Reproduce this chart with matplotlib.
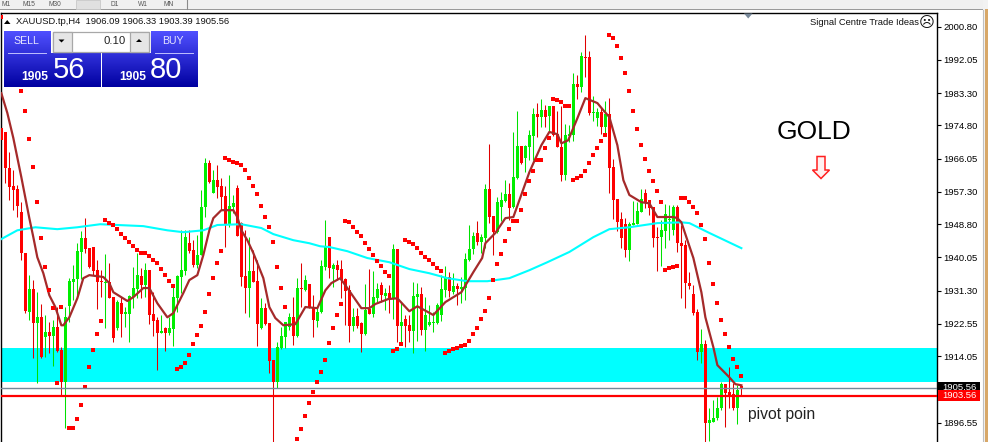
import numpy as np
import matplotlib
matplotlib.use("Agg")
from matplotlib import pyplot as plt
from matplotlib.patches import Rectangle, Polygon

plt.rcParams['font.family'] = ['Liberation Sans', 'DejaVu Sans']

opens = [1974.1,1973.1,1963.6,1958.8,1958,1952,1941.2,1925.7,1931.7,1922.8,
         1924.3,1919.1,1920.4,1919.3,1921.7,1915.6,1907.2,1927.2,1933.5,1934.3,
         1941.5,1945.1,1942.5,1942.8,1936.7,1933.8,1933.3,1933.5,1929.6,1921.4,
         1928,1925.1,1925.1,1929.6,1931.7,1935.1,1932.8,1936.7,1925.1,1923.5,
         1920.1,1921.4,1920.1,1921.2,1929.3,1934.9,1936.4,1943.8,1942,1938,
         1940.7,1953.3,1964.9,1957,1960.4,1958.8,1956.2,1948.6,1953.3,1958.3,
         1949.1,1935.1,1932,1936.4,1933.8,1921.4,1926.7,1922.8,1913,1907.2,
         1916.2,1919.1,1921.7,1924.3,1919.3,1932,1931.4,1933,1927,1923.3,
         1925.7,1937.5,1945.4,1937,1938,1937,1934.3,1931.4,1922,1924.6,
         1922.8,1919.9,1926.4,1925.1,1929.3,1932.8,1929.9,1930.7,1929.3,1942.2,
         1922,1923.8,1922.2,1920.6,1929.6,1930.4,1920.9,1922.2,1922.8,1922.8,
         1924.9,1931.4,1934.9,1930.9,1932.5,1931.7,1932,1939.3,1942.2,1946.5,
         1944.1,1945.1,1958,1950.9,1946.7,1953.3,1954.9,1956.7,1953.3,1960.9,
         1969.4,1966.2,1969.1,1972,1977.8,1977,1978.8,1977.3,1979.9,1972.5,
         1969.1,1961.7,1972,1972.3,1985.7,1984.9,1992.8,1992.8,1978.1,1976.7,
         1978.3,1974.4,1977.8,1963.8,1955.4,1950.1,1948.8,1942,1948.6,1948.8,
         1952,1957,1955.1,1953.3,1945.4,1945.4,1947,1949.9,1947.2,1953.3,
         1943.8,1943.3,1933.3,1930.4,1925.7,1915.1,1917.2,1896.4,1896.7,1897.7,
         1900.4,1906.7,1904.6,1904.1,1900.4,1906.2]
highs = [1978.3,1973.1,1967.8,1963,1959.1,1954.6,1941.2,1935.4,1934.1,1930.9,
         1927.8,1924.9,1923,1923.5,1927,1916.4,1927,1934.6,1938,1943.8,
         1947,1950.4,1942.5,1942.8,1939.3,1936.7,1940.9,1938.6,1929.6,1928.8,
         1929.6,1927,1930.1,1937.5,1941.2,1937.2,1938.6,1936.7,1930.9,1924.3,
         1924.9,1921.7,1924.3,1932.8,1935.4,1947.2,1947.2,1947.2,1944.6,1945.9,
         1957.8,1966.2,1965.7,1963,1964.4,1960.9,1958.8,1961.7,1956.5,1959.1,
         1949.3,1947.2,1945.4,1942,1939.3,1929.3,1928,1922.8,1913,1917.8,
         1921.7,1923,1925.4,1929.6,1934.6,1938.6,1935.4,1933,1930.1,1927,
         1939.3,1949.9,1945.4,1938.6,1939.3,1939.3,1934.6,1932.8,1926.7,1926.7,
         1923,1933,1937,1936.4,1933.3,1933.5,1932,1932.8,1943.5,1942.2,
         1928.3,1924.9,1924.9,1933.5,1933.3,1932.2,1929.6,1927.5,1925.7,1928,
         1935.4,1937.8,1936.2,1935.9,1933.3,1934.9,1941.2,1948.6,1946.7,1949.6,
         1946.2,1959.4,1969.9,1950.9,1955.9,1957.2,1960.4,1959.6,1973.1,1978.6,
         1969.4,1969.6,1973.6,1979.4,1980.7,1981.8,1980.2,1979.9,1979.9,1978.6,
         1979.9,1975.2,1974.9,1988.6,1988.1,1994.1,1998.6,1994.4,1982.5,1979.4,
         1979.6,1981.2,1982,1965.9,1955.4,1952,1950.4,1949.3,1954.9,1954.6,
         1958,1958,1955.1,1953.3,1948,1949.9,1954.1,1953.8,1953.8,1953.8,
         1948.6,1944.6,1936.2,1932.8,1926.4,1921.2,1918.3,1900.4,1902.5,1903.3,
         1907.2,1906.7,1911.2,1907,1906.4,1906.4]
lows = [1969.6,1959.6,1955.1,1952.5,1950.7,1939.3,1925.4,1923.5,1913.5,1907,
        1913.5,1913.8,1914.9,1911.4,1915.1,1903.8,1895.1,1923,1928.8,1930.1,
        1934.3,1941.2,1937.2,1935.4,1926.4,1929.6,1921.4,1929.3,1917.8,1920.9,
        1919.1,1921.7,1917.8,1926.7,1929.3,1929.3,1929.6,1922.5,1919.3,1910.4,
        1920.1,1915.4,1919.6,1916.7,1925.7,1930.7,1935.4,1941.2,1937.5,1937.2,
        1940.7,1950.7,1959.6,1957,1955.7,1952.5,1942.8,1948,1951.7,1945.7,
        1932.5,1925.4,1924.3,1933.5,1916.7,1921.2,1922.2,1909.6,1891.4,1905.6,
        1915.9,1916.2,1920.9,1917,1919.1,1927,1931.2,1926.7,1919.1,1921.7,
        1925.4,1936.7,1934.6,1932.2,1934.1,1929.3,1922.2,1917.8,1920.6,1921.4,
        1915.1,1919.6,1925.1,1924.3,1928.3,1928.3,1926.2,1925.4,1923.8,1917.8,
        1917,1916.4,1917.8,1914.9,1918,1919.6,1915.4,1922,1920.4,1922.5,
        1923.3,1929.6,1929.6,1930.4,1927.5,1928,1928.8,1939.1,1940.9,1943.3,
        1941.2,1942.5,1949.1,1940.7,1946.5,1949.6,1954.6,1949.9,1953,1960.7,
        1964.6,1962.5,1965.7,1965.7,1971.7,1974.4,1974.4,1973.1,1972,1969.1,
        1960.1,1960.4,1970.4,1970.7,1981.8,1983.6,1987.5,1977.5,1975.9,1974.6,
        1972.5,1972.8,1957,1950.1,1947,1942.5,1940.1,1939.1,1948.6,1948.8,
        1952,1953,1951.2,1942.8,1936.4,1937.8,1942.5,1944.6,1945.9,1941.5,
        1929.3,1926.7,1931.7,1924.9,1913,1912.2,1891.4,1891.7,1896.7,1897.2,
        1899.9,1895.4,1900.4,1899.9,1896.2,1903.8]
closes = [1970.9,1963.6,1958.6,1957.8,1953.6,1941.2,1925.9,1931.7,1922.8,1924.3,
          1913.8,1920.4,1919.3,1921.7,1915.4,1907.2,1924.3,1933.8,1934.3,1941.7,
          1945.1,1942.2,1937.5,1936.4,1933.5,1933.5,1933.5,1929.3,1918.8,1928.3,
          1925.1,1925.7,1929.9,1932,1935.4,1932.8,1936.7,1924.9,1923.3,1920.1,
          1920.6,1920.1,1921.4,1929.6,1935.1,1936.7,1945.4,1941.7,1938,1940.7,
          1953.3,1964.9,1959.9,1960.4,1958.6,1955.9,1948.6,1953.6,1954.3,1945.7,
          1934.9,1932,1936.4,1933.5,1922.5,1926.7,1922.5,1912.7,1907.2,1916.4,
          1919.3,1923,1924.3,1919.3,1932,1931.7,1934.1,1926.7,1923.5,1925.7,
          1937.8,1942.8,1937.2,1938,1936.7,1934.1,1931.2,1922,1924.3,1922,
          1919.9,1926.2,1925.1,1929.6,1931.7,1930.1,1930.7,1929.3,1942.2,1922,
          1923,1922,1920.6,1929.9,1930.4,1920.9,1924.9,1923,1923,1927.5,
          1931.7,1934.9,1931.2,1932.5,1931.7,1932.2,1939.6,1942.2,1945.7,1944.1,
          1945.4,1958,1950.7,1946.7,1954.6,1955.1,1956.7,1953,1961.2,1969.4,
          1964.9,1969.4,1972.3,1977.8,1977,1978.8,1977,1979.9,1972.3,1969.1,
          1961.7,1972.3,1972.5,1985.7,1984.9,1993.1,1992.6,1978.1,1978.3,1978.3,
          1974.4,1977.8,1963.6,1955.1,1949.3,1945.1,1942,1948.8,1949.1,1952.2,
          1955.4,1954.6,1953,1945.1,1945.1,1947.2,1951.5,1950.1,1953.3,1943.8,
          1943,1933.3,1932.5,1925.4,1915.1,1917.2,1896.4,1897.2,1897.7,1900.4,
          1906.7,1904.3,1903.5,1900.4,1905.1,1905.4]

# parabolic sar, one per candle, None where nothing is drawn
sar = [2003.3,None,None,None,None,1983.9,1978.6,1971.2,1963.8,1954.6,
       1945.1,1937.5,1931.4,1926.7,1907,1927,None,1895.1,1895.1,1897.5,
       1901.2,1905.9,1911.2,1915.6,1919.9,1923.3,1949.9,1949.1,1948.6,1947.5,
       1946.2,1945.1,1944.1,1943,1942,1941.2,1941.2,1940.4,1939.3,1938.6,
       1937,1935.4,1933.8,1932.5,1910.6,1911.2,1912.2,1914.3,1917.2,1919.6,
       1922,1925.7,1930.4,1934.6,1938.6,1941.7,1966.2,1965.7,1965.1,1964.9,
       1964.4,1963,1960.9,1958.8,1956.7,1953.6,1950.7,1948,1944.1,1937.5,
       1932,1927,None,None,1892.2,1894.9,1898.3,1901.7,1904.6,1907.2,
       1909.9,1913,1917.5,1921.4,1924.9,1927.8,1949.6,1949.3,1948,1946.7,
       1945.7,1943.8,1942.2,1940.7,1939.1,1937.8,1936.2,1935.1,1915.4,1915.9,
       1917.2,1944.6,1944.1,1943.5,1942.5,1941.2,1940.1,1939.3,1938.3,1937.2,
       1936.4,1914.9,1915.4,1915.9,1916.2,1916.7,1917,1918,1919.9,1921.4,
       1923.8,1925.9,1929.3,1934.1,1938.3,1940.9,1944.3,1947.5,1949.6,1949.6,
       1952.5,1956.7,1960.1,1962.8,1965.7,1965.7,1968.8,1971.5,1981.8,1981.5,
       1981,1979.9,1979.9,1960.4,1960.9,1961.5,1962.8,1964.9,1967,1968.8,
       1970.7,1972.3,1998.6,1997.8,1995.7,1992.6,1988.6,1983.8,1978.6,1973.8,
       1969.6,1965.9,1962.8,1960.1,1957.5,1954.6,1936.7,1937.2,1937.5,1937.8,
       1955.7,1955.7,1954.6,1953.3,1951.7,1948.6,1944.9,1938.6,1933,1928,
       1923.5,1919.9,1916.4,1913.3,1911.2,1908.8]

brown_idx = [0,1.5,3,5,7,8,9,10.5,12,13.5,15,15.5,17,19,20.5,22,25.5,27,28,31.5,
             33,35.5,37,39,41.5,43,45.5,47,49,50.5,52,53,55,58,59,60,61.5,63,65.5,67,
             68.5,70.5,73.5,76,79,81,82.5,84.7,86.5,90,92,93.5,96.7,99,102,104,108,111,115,118,
             120.2,121,122.2,123.5,126,128,132,135,137,139,140,141.7,144,146,149,150.5,152,154,155.5,157,
             160,162,164,168,169,170,171.5,173,175,176,178,179,182,183.5,185]
brown_val = [1983.3,1978.1,1971.5,1961.2,1950.4,1945.4,1940.1,1935.9,1930.1,1927,1922.2,1922.2,1924.3,1929.3,1934.6,1935.4,1934.9,1933.3,1930.9,1928.6,
             1929.6,1932,1932,1928,1924.3,1925.4,1930.7,1934.1,1935.4,1940.7,1947.2,1950.4,1952.5,1952.5,1950.7,1947.2,1944.6,1941.2,1934.6,1927,
             1924.1,1922.2,1922.5,1927,1926.7,1931.4,1933.3,1934.6,1932,1926.7,1926.7,1927.8,1929.1,1929.3,1925.9,1927.2,1924.9,1928.3,1930.9,1936.2,
             1939.9,1943.8,1945.1,1946.5,1950.4,1950.7,1962.5,1969.6,1973.1,1972.5,1970.1,1970.9,1976.7,1982,1980.7,1978.8,1977,1969.6,1960.4,1956.5,
             1954.6,1954.3,1950.7,1950.7,1950.4,1949.3,1944.6,1939.9,1930.9,1924.3,1916.4,1911.7,1908.5,1906.7,1906.4]

cyan_idx = [0,4,8.5,14,19,24.7,35.5,41.5,45.5,50.5,54,60,65,68,73,77,79.7,82,86.5,91.5,
            97,102,107,111.5,116.5,121.5,127,132,136.5,142,148,152,157,164,170,172,177,185]
cyan_val = [1944.9,1947.2,1948,1947.5,1948,1948.8,1948.3,1947.2,1946.7,1947.2,1948.6,1948.8,1947.8,1946.2,1944.6,1943.8,1943,1942.8,1941.7,1939.9,
            1938.8,1937,1935.9,1934.6,1933.8,1933.8,1934.6,1936.7,1938.8,1941.5,1945.4,1947.5,1948,1949.1,1949.3,1949.1,1946.5,1942.5]

tick_vals = [2000.80,1992.05,1983.30,1974.80,1966.05,1957.30,1948.80,1940.05,1931.30,1922.55,1914.05,1896.55]
zone_low, zone_high = 1907.2, 1916.2
bid = 1905.56
pivot = 1903.56

fig = plt.figure(figsize=(9.88, 4.42), dpi=100, facecolor='white')
W, H = 988.0, 442.0
ax = fig.add_axes([1/W, 0, 936/W, 429/H])
ax.set_xlim(-0.08, 233.9)
ax.set_ylim(1891.47, 2004.41)

o = np.array(opens)
c = np.array(closes)
hi = np.array(highs)
lo = np.array(lows)
x = np.arange(len(o))
cols = np.where(c >= o, '#00ee00', '#ff0000')
wick_cols = np.where(c >= o, '#00e000', '#e00000')

ax.axhspan(zone_low, zone_high, color='#00ffff', lw=0, zorder=1)
ax.vlines(x, lo, hi, colors=wick_cols, lw=0.75, snap=True, zorder=2)
ax.bar(x, np.maximum(np.abs(c-o), 0.3), bottom=np.minimum(o, c), width=0.75, color=cols, lw=0, zorder=3)
ax.plot(cyan_idx, cyan_val, color='#00ffff', lw=1.5, zorder=4)
ax.plot(brown_idx, brown_val, color='#a52a2a', lw=1.6, zorder=5)
sar_arr = np.array([np.nan if v is None else v for v in sar])
ax.plot(x, sar_arr, ls='', marker='s', color='#ff0000', ms=2.9, mew=0, zorder=6)
ax.axhline(bid, color='#778899', lw=1.0, zorder=7)
ax.axhline(pivot, color='#ff0000', lw=1.6, zorder=7)

ax.set_xticks([])
ax.yaxis.tick_right()
ax.set_yticks(tick_vals)
ax.set_yticklabels(['%.2f' % v for v in tick_vals], fontsize=6.8)
ax.tick_params(axis='y', length=3, width=0.8, pad=1.5, colors='black')
ax.spines['bottom'].set_visible(False)
for s in ['top', 'left', 'right']:
    ax.spines[s].set_linewidth(1.0)

# everything else on the screenshot, in pixels
ov = fig.add_axes([0, 0, 1, 1], zorder=10)
ov.patch.set_alpha(0)
ov.axis('off')

# window strip on top and right
ov.add_patch(Rectangle((0, 0), 988, 9, fc='#f0f0f0', ec='none'))
ov.add_patch(Rectangle((0, 9), 988, 1.3, fc='#9a9a9a', ec='none'))
ov.add_patch(Rectangle((76, 0), 24, 8.5, fc='#e0e0e0', ec='#c8c8c8', lw=0.6))
ov.plot([186.5, 186.5], [0, 9], color='#8a8a8a', lw=0.8)
for tx, ts in zip([1, 22, 48, 110, 138, 163], ['M1', 'M15', 'M30', 'D1', 'W1', 'MN']):
    ov.text(tx, 4.5, ts, fontsize=4.8, color='#555555', va='center')
ov.add_patch(Rectangle((983, 0), 5, 442, fc='#f2f2f2', ec='none'))
ov.add_patch(Rectangle((985, 9), 3, 433, fc='#d8a868', ec='none'))
ov.plot([983, 983], [10, 442], color='#c0c0c0', lw=0.8)

# header
ov.add_patch(Polygon([[4, 24], [10.5, 24], [7.2, 20]], fc='black', ec='none'))
ov.text(16, 21.8, 'XAUUSD.tp,H4  1906.09 1906.33 1903.39 1905.56', fontsize=6.75, va='center', color='#111111')

# trade panel
grad = np.linspace(0, 1, 64).reshape(-1, 1)
top_c = np.array([0x50, 0x50, 0xff]) / 255
bot_c = np.array([0x00, 0x00, 0xa0]) / 255
img = (top_c[None, None, :] * (1 - grad[:, :, None]) + bot_c[None, None, :] * grad[:, :, None])
for box in [(4, 31, 46, 22), (151, 31, 46, 22), (4, 53, 96, 34), (102, 53, 95, 34)]:
    bx, by, bw, bh = box
    f0 = (by - 31) / 56.0
    f1 = (by + bh - 31) / 56.0
    part = img[int(f0 * 63):int(f1 * 63) + 1]
    ov.imshow(part, extent=(bx, bx + bw, by + bh, by), aspect='auto', interpolation='bilinear', zorder=2)
ov.plot([8, 46], [52.5, 52.5], color='#c0c0ff', lw=0.7, zorder=3)
ov.plot([155, 193], [52.5, 52.5], color='#c0c0ff', lw=0.7, zorder=3)
ov.text(26, 41, 'SELL', color='#e6e6ff', fontsize=7.6, ha='center', va='center', zorder=3)
ov.text(173, 41, 'BUY', color='#e6e6ff', fontsize=7.6, ha='center', va='center', zorder=3)
ov.text(21, 77, '1905', color='white', fontsize=8.7, fontweight='bold', va='center', zorder=3)
ov.text(53, 70, '56', color='white', fontsize=21, va='center', zorder=3)
ov.text(119, 77, '1905', color='white', fontsize=8.7, fontweight='bold', va='center', zorder=3)
ov.text(150, 70, '80', color='white', fontsize=21, va='center', zorder=3)
ov.add_patch(Rectangle((52.5, 31.5), 96, 20, fc='white', ec='#a8a8a8', lw=0.9, zorder=2))
ov.add_patch(Rectangle((52.5, 31.5), 19, 20, fc='#e6e6e6', ec='#a8a8a8', lw=0.9, zorder=2))
ov.add_patch(Rectangle((129.5, 31.5), 19, 20, fc='#e6e6e6', ec='#a8a8a8', lw=0.9, zorder=2))
ov.add_patch(Polygon([[58.5, 39.5], [64.5, 39.5], [61.5, 42.5]], fc='black', ec='none', zorder=3))
ov.add_patch(Polygon([[136, 42], [142, 42], [139, 39]], fc='black', ec='none', zorder=3))
ov.text(125.5, 41, '0.10', fontsize=8.2, ha='right', va='center', color='#222222', zorder=3)

# top right
ov.add_patch(Polygon([[744, 13.5], [752.5, 13.5], [748.2, 18.5]], fc='#778899', ec='none'))
ov.text(919, 22.5, 'Signal Centre Trade Ideas', fontsize=6.75, ha='right', va='center', color='#111111')
ov.text(926.5, 22.5, '\u2639', fontsize=11, ha='center', va='center', color='#111111', family='DejaVu Sans')

ov.text(814, 132, 'GOLD', fontsize=19, ha='center', va='center', color='black')
ov.add_patch(Polygon([[817, 156.5], [825, 156.5], [825, 170], [829.5, 170], [821, 178.5], [812.5, 170], [817, 170]],
                     fc='#fff0f0', ec='#ff2020', lw=1.1))
ov.text(748, 414, 'pivot poin', fontsize=11.3, va='center', color='#222222')

# price labels over the axis
ov.add_patch(Rectangle((938, 382), 42, 9, fc='black', ec='none'))
ov.text(959, 387, '1905.56', fontsize=6.8, color='white', ha='center', va='center')
ov.add_patch(Rectangle((938, 390), 42, 11, fc='#ff0000', ec='none'))
ov.text(959, 396, '1903.56', fontsize=6.8, color='white', ha='center', va='center')

ov.set_xlim(0, 988)
ov.set_ylim(442, 0)

fig.savefig('out.png', dpi=100)
